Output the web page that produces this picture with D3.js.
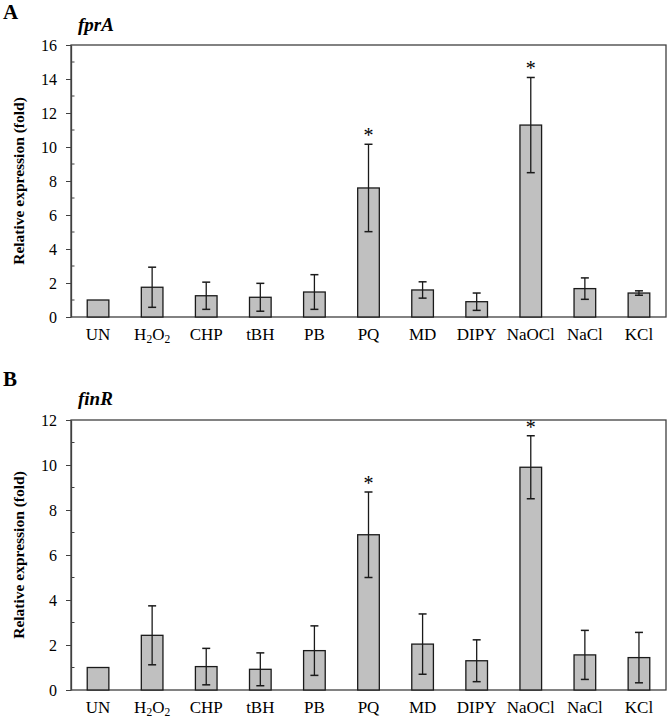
<!DOCTYPE html>
<html><head><meta charset="utf-8">
<script src="https://cdn.jsdelivr.net/npm/d3@7"></script>
<style>
body{margin:0;background:#fff;}
svg{display:block;font-family:"Liberation Serif","Times New Roman",serif;}
</style></head>
<body><svg id="c" width="668" height="720"></svg>
<script>
const categories = ["UN","H2O2","CHP","tBH","PB","PQ","MD","DIPY","NaOCl","NaCl","KCl"];
const fprAValues = [1.0,1.75,1.25,1.16,1.47,7.59,1.59,0.90,11.29,1.67,1.41];
const fprAErrors = [0,1.18,0.80,0.82,1.02,2.57,0.48,0.51,2.80,0.63,0.13];
const fprASig = [false,false,false,false,false,true,false,false,true,false,false];
const finRValues = [1.0,2.43,1.04,0.92,1.75,6.90,2.04,1.30,9.90,1.56,1.44];
const finRErrors = [0,1.31,0.81,0.73,1.10,1.90,1.34,0.93,1.40,1.09,1.12];
const finRSig = [false,false,false,false,false,true,false,false,true,false,false];
const fprATicks = [0,2,4,6,8,10,12,14,16];
const finRTicks = [0,2,4,6,8,10,12];

const svg = d3.select("#c");
const left = 71, right = 666;

function panel(o){
  const g = svg.append("g");
  const x = d3.scaleBand().domain(categories).range([left,right]).paddingInner(0.6).paddingOuter(0.3);
  const y = d3.scaleLinear().domain([0,o.max]).range([o.bottom,o.top]);
  g.append("text").attr("x",3).attr("y",o.letterY).attr("font-size",21).attr("font-weight","bold").text(o.letter);
  g.append("text").attr("x",78).attr("y",o.titleY).attr("font-size",19).attr("font-weight","bold").attr("font-style","italic").text(o.title);
  g.append("rect").attr("x",left).attr("y",y(o.max)).attr("width",right-left).attr("height",y(0)-y(o.max))
    .attr("fill","none").attr("stroke","#404040").attr("stroke-width",1.3);
  const minor = d3.range(1,o.max,2);
  g.selectAll(".mn").data(minor).join("line").attr("x1",left).attr("x2",left+3.5)
    .attr("y1",d=>y(d)).attr("y2",d=>y(d)).attr("stroke","#404040").attr("stroke-width",1);
  const ax = g.append("g").attr("transform",`translate(${left},0)`)
    .call(d3.axisLeft(y).tickValues(o.ticks).tickSize(5).tickSizeOuter(0).tickPadding(9));
  ax.select(".domain").attr("stroke","#404040").attr("stroke-width",1.3);
  ax.selectAll(".tick line").attr("stroke","#404040").attr("stroke-width",1);
  ax.selectAll(".tick text").attr("font-size",16).attr("font-family","Liberation Serif").attr("fill","#000");
  g.selectAll(".bar").data(categories).join("rect")
    .attr("x",d=>x(d)).attr("width",x.bandwidth())
    .attr("y",(d,i)=>y(o.values[i])).attr("height",(d,i)=>y(0)-y(o.values[i]))
    .attr("fill","#c0c0c0").attr("stroke","#1a1a1a").attr("stroke-width",1.3);
  categories.forEach((c,i)=>{
    const e = o.errors[i]; if(!e) return;
    const cx = x(c)+x.bandwidth()/2;
    const y1 = y(o.values[i]+e), y2 = y(Math.max(0,o.values[i]-e));
    g.append("line").attr("x1",cx).attr("x2",cx).attr("y1",y1).attr("y2",y2).attr("stroke","#1a1a1a").attr("stroke-width",1.3);
    [y1,y2].forEach(yy=>g.append("line").attr("x1",cx-4).attr("x2",cx+4).attr("y1",yy).attr("y2",yy).attr("stroke","#1a1a1a").attr("stroke-width",1.5));
    if(o.sig[i]) g.append("text").attr("x",cx).attr("y",y1-2).attr("text-anchor","middle").attr("font-size",20).text("*");
  });
  categories.forEach(c=>{
    const cx = x(c)+x.bandwidth()/2;
    const t = g.append("text").attr("x",cx).attr("y",o.bottom+23).attr("text-anchor","middle").attr("font-size",17);
    if(c==="H2O2"){
      t.append("tspan").text("H");
      t.append("tspan").attr("font-size",11.5).attr("dy",3).text("2");
      t.append("tspan").attr("dy",-3).text("O");
      t.append("tspan").attr("font-size",11.5).attr("dy",3).text("2");
    } else t.text(c);
  });
  g.append("text").attr("transform",`translate(24,${(o.top+o.bottom)/2}) rotate(-90)`)
    .attr("text-anchor","middle").attr("font-size",15.5).attr("font-weight","bold").text("Relative expression (fold)");
}

panel({letter:"A",letterY:19,title:"fprA",titleY:31,top:45,bottom:317,max:16,ticks:fprATicks,values:fprAValues,errors:fprAErrors,sig:fprASig});
panel({letter:"B",letterY:386,title:"finR",titleY:405,top:420,bottom:690,max:12,ticks:finRTicks,values:finRValues,errors:finRErrors,sig:finRSig});
</script></body></html>
